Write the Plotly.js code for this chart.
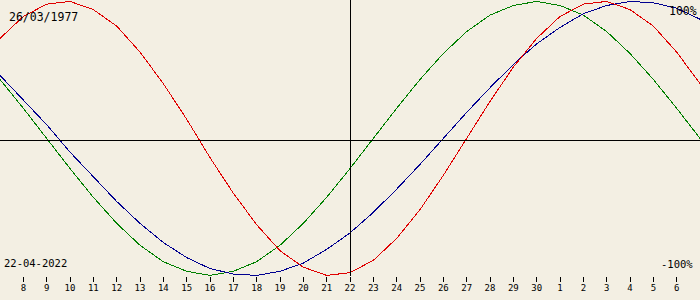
<!DOCTYPE html>
<html>
<head>
<meta charset="utf-8">
<script src="https://cdn.plot.ly/plotly-3.0.1.min.js"></script>
<style>
  html, body { margin: 0; padding: 0; background: #f3efe3; }
  #chart { width: 700px; height: 300px; }
  #chart .scatterlayer path, #chart .shapelayer path, #chart .xtick path, #chart path.xtick { shape-rendering: crispEdges; }
  #chart text { text-rendering: optimizeSpeed; }
</style>
</head>
<body>
<div id="chart"></div>
<script>
// Days shown: 7 April 2022 (left edge) to 7 May 2022 (right edge)
const dayLabels = ['7','8','9','10','11','12','13','14','15','16','17','18','19','20','21','22',
                   '23','24','25','26','27','28','29','30','1','2','3','4','5','6','7'];
// Biorhythm values (-1 .. 1), one per day
const physical = [0.73,0.89,0.98,1.00,0.94,0.82,0.63,0.40,0.14,-0.14,-0.40,-0.63,-0.82,-0.94,-1.00,-0.98,
                  -0.89,-0.73,-0.52,-0.27,0.00,0.27,0.52,0.73,0.89,0.98,1.00,0.94,0.82,0.63,0.40];
const emotional = [0.43,0.22,0.00,-0.22,-0.43,-0.62,-0.78,-0.90,-0.97,-1.00,-0.97,-0.90,-0.78,-0.62,-0.43,-0.22,
                   0.00,0.22,0.43,0.62,0.78,0.90,0.97,1.00,0.97,0.90,0.78,0.62,0.43,0.22,0.00];
const intellectual = [0.46,0.28,0.10,-0.10,-0.28,-0.46,-0.62,-0.76,-0.87,-0.95,-0.99,-1.00,-0.97,-0.91,-0.81,-0.69,
                      -0.54,-0.37,-0.19,0.00,0.19,0.37,0.54,0.69,0.81,0.91,0.97,1.00,0.99,0.95,0.87];
const birthDate = '26/03/1977';
const currentDate = '22-04-2022';
const currentIndex = 15; // 22 April
const topLabel = '100%';
const bottomLabel = '-100%';

const xIdx = dayLabels.map((_, i) => i);
const tickIdx = xIdx.slice(1, -1);
const tickText = dayLabels.slice(1, -1);

const mk = (y, color) => ({
  x: xIdx, y: y, type: 'scatter', mode: 'lines',
  line: { color: color, width: 1 }, hoverinfo: 'skip', showlegend: false
});

const data = [
  mk(emotional, '#008000'),
  mk(intellectual, '#000090'),
  mk(physical, '#e00000')
];

const bg = '#f3efe3';
const layout = {
  width: 700, height: 300,
  margin: { l: 0, r: 0, t: 0, b: 24, pad: 0 },
  paper_bgcolor: bg, plot_bgcolor: bg,
  showlegend: false,
  xaxis: {
    range: [0, 30], showgrid: false, zeroline: false, showline: false,
    tickmode: 'array', tickvals: tickIdx, ticktext: tickText,
    ticks: 'outside', ticklen: 5, tickwidth: 1, tickcolor: '#000',
    ticklabelstandoff: -2,
    tickfont: { family: 'DejaVu Sans Mono', size: 9, color: '#000' },
    fixedrange: true
  },
  yaxis: {
    range: [-1.0044, 1.0102], visible: false, showgrid: false, zeroline: false, fixedrange: true
  },
  shapes: [
    { type: 'line', xref: 'paper', yref: 'y', x0: 0, x1: 1, y0: -0.012, y1: -0.012,
      line: { color: '#000', width: 1 } },
    { type: 'line', xref: 'x', yref: 'paper', x0: currentIndex, x1: currentIndex, y0: 0, y1: 1,
      line: { color: '#000', width: 1 } }
  ],
  annotations: [
    { text: birthDate, xref: 'paper', yref: 'paper', x: 7/700, y: 1 - 17/276,
      xanchor: 'left', yanchor: 'middle', showarrow: false,
      font: { family: 'DejaVu Sans Mono', size: 11.5, color: '#000' } },
    { text: topLabel, xref: 'paper', yref: 'paper', x: 699/700, y: 1 - 11.5/276,
      xanchor: 'right', yanchor: 'middle', showarrow: false,
      font: { family: 'DejaVu Sans Mono', size: 11.5, color: '#000' } },
    { text: currentDate, xref: 'paper', yref: 'paper', x: 2/700, y: 1 - 262.5/276,
      xanchor: 'left', yanchor: 'middle', showarrow: false,
      font: { family: 'DejaVu Sans Mono', size: 10.5, color: '#000' } },
    { text: bottomLabel, xref: 'paper', yref: 'paper', x: 695/700, y: 1 - 263.5/276,
      xanchor: 'right', yanchor: 'middle', showarrow: false,
      font: { family: 'DejaVu Sans Mono', size: 10.5, color: '#000' } }
  ]
};

Plotly.newPlot('chart', data, layout, { staticPlot: true, displayModeBar: false });
</script>
</body>
</html>
